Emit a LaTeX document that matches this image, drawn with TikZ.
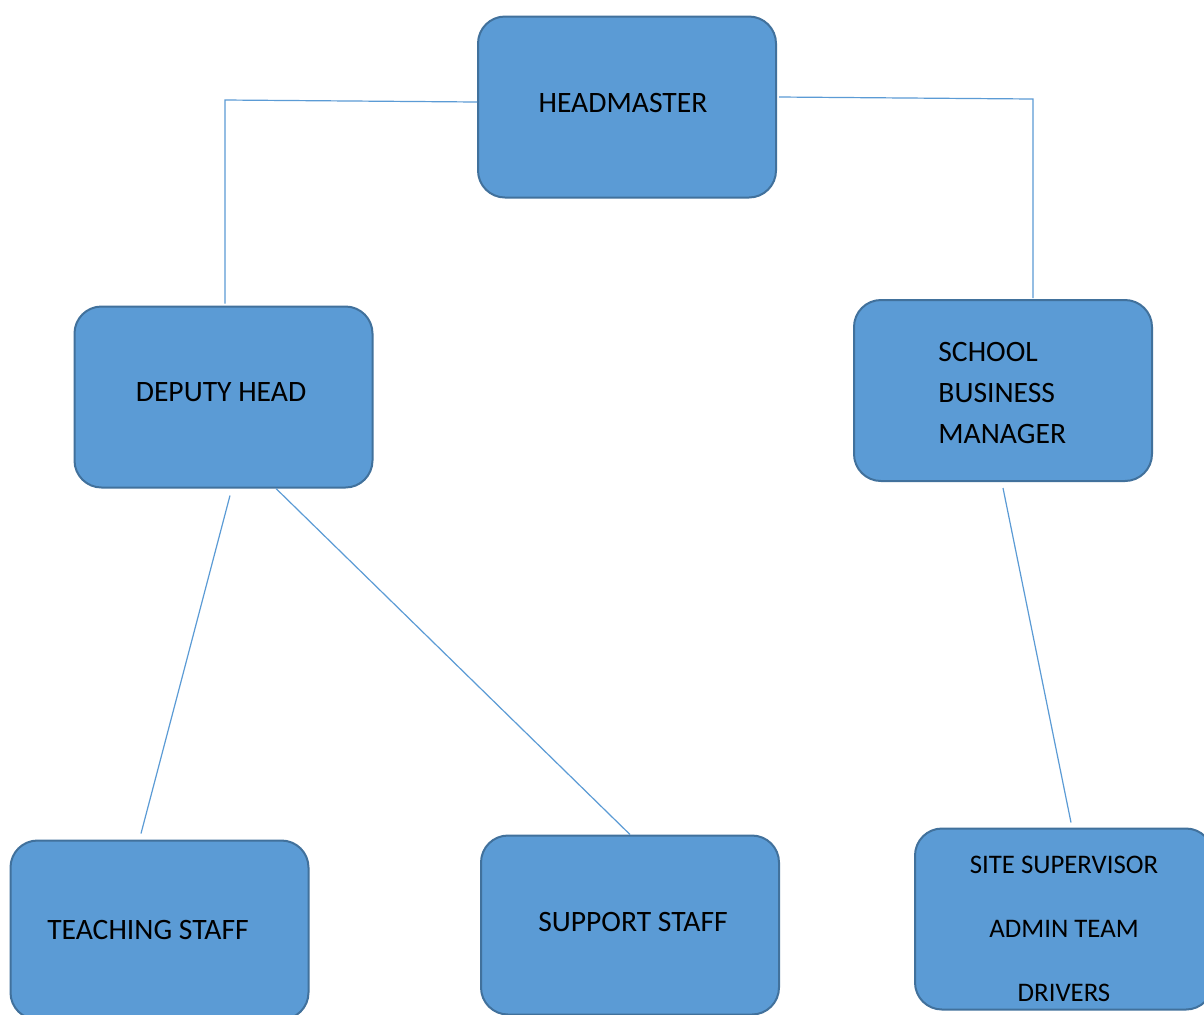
\documentclass[tikz,border=0pt]{standalone}
\usepackage{fontspec}
\setmainfont{Carlito}
\definecolor{boxfill}{HTML}{5B9BD5}
\definecolor{boxline}{HTML}{41719C}
\tikzset{
  box/.style={shape=rectangle,rounded corners=13.5pt,draw=boxline,line width=1pt,fill=boxfill,minimum width=149pt,minimum height=90.5pt,inner sep=0pt},
  lbl/.style={text=black,inner sep=0pt,font=\fontsize{14.8}{20.5}\selectfont},
  link/.style={draw=boxfill,line width=0.6pt}
}
\begin{document}
\begin{tikzpicture}[x=0.5pt,y=-0.5pt]
\clip (0,0) rectangle (1204,1014);
\fill[white] (0,0) rectangle (1204,1014);

\node[box] (hm) at (627,107) {};
\node[box] (dh) at (223.5,397) {};
\node[box] (sbm) at (1003,390.5) {};
\node[box,minimum height=89.5pt] (ts) at (159.5,930) {};
\node[box,minimum height=89.5pt] (ss) at (630,925) {};
\node[box] (site) at (1064,919) {};

\node[lbl] (hm-t) at (623,103) {HEADMASTER};
\node[lbl] (dh-t) at (221,392) {DEPUTY HEAD};
\node[lbl,align=left,anchor=west] (sbm-t) at (938,393) {SCHOOL\\BUSINESS\\MANAGER};
\node[lbl] (ts-t) at (148,930) {TEACHING STAFF};
\node[lbl] (ss-t) at (633,922) {SUPPORT STAFF};
\node[lbl,align=center,font=\fontsize{13.4}{32}\selectfont] (site-t) at (1064,929) {SITE SUPERVISOR\\ADMIN TEAM\\DRIVERS};

\coordinate (dh-c) at (225,100);
\coordinate (sbm-c) at (1033,99);

\draw[link] ([yshift=2.5pt]hm.west) -- (dh-c) -- ([xshift=0.75pt,yshift=1pt]dh.north);
\draw[link] ([yshift=5pt,xshift=1pt]hm.east) -- (sbm-c) -- ([xshift=15pt,yshift=0.5pt]sbm.north);
\draw[link] ([xshift=3.25pt,yshift=-3.5pt]dh.south) -- ([xshift=-9.25pt,yshift=3pt]ts.north);
\draw[link] ([xshift=26.25pt]dh.south) -- (ss.north);
\draw[link] ([yshift=-3pt]sbm.south) -- ([xshift=3.5pt,yshift=2.5pt]site.north);
\end{tikzpicture}
\end{document}
